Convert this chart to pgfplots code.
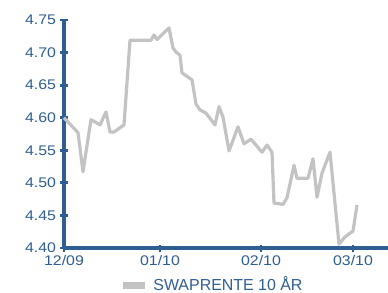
\documentclass[border=0pt]{standalone}
\usepackage{pgfplots}
\pgfplotsset{compat=1.18}
\usepackage{fontspec}
\setmainfont{Liberation Sans}[FakeStretch=1.14]
\newfontfamily\legfont{Liberation Sans}
\definecolor{axblue}{RGB}{47,94,148}
\definecolor{lgray}{RGB}{195,195,195}
\begin{document}
\begin{tikzpicture}
\path[use as bounding box] (-64bp,-45bp) rectangle (324bp,248bp);
\begin{axis}[
  at={(0,0)}, anchor=south west,
  scale only axis, width=324bp, height=228bp,
  xmin=64, xmax=388, ymin=4.40, ymax=4.75,
  axis x line=bottom, axis y line=left,
  axis line style={-, line width=3.2bp, draw=axblue},
  xtick={64,160,261,353},
  xticklabels={12/09,01/10,02/10,03/10},
  ytick={4.40,4.45,4.50,4.55,4.60,4.65,4.70,4.75},
  yticklabel style={xshift=-1bp, /pgf/number format/fixed, /pgf/number format/fixed zerofill, /pgf/number format/precision=2, /pgf/number format/assume math mode=true},
  tick align=center,
  major tick length=7bp,
  every tick/.style={line width=2.8bp, draw=axblue},
  tick label style={font=\fontsize{14}{16}\selectfont, text=axblue},
  clip=false,
  legend style={draw=none, fill=none, inner sep=0pt, outer sep=0pt, at={(0.1695,0)}, anchor=west, yshift=-36bp,
    font=\legfont\fontsize{16}{18}\selectfont, text=axblue,
    /tikz/every odd column/.append style={column sep=3bp}},
  legend image code/.code={\draw[line width=7.5bp, draw=lgray] (0bp,-1.5bp) -- (22bp,-1.5bp);},
]
\addplot[draw=lgray, line width=3.2bp, line join=round] coordinates {
(64,4.600) (78,4.577) (83,4.517) (91,4.597) (100,4.589) (106,4.609)
(110,4.578) (114,4.578) (124,4.589) (130,4.719) (151,4.719) (154,4.727)
(157,4.720) (169,4.738) (173,4.707) (176,4.701) (180,4.696) (182,4.669)
(192,4.658) (196,4.621) (200,4.612) (206,4.607) (215,4.589) (219,4.617)
(223,4.601) (229,4.549) (238,4.586) (244,4.560) (251,4.567) (262,4.547)
(267,4.558) (272,4.547) (274,4.469) (283,4.467) (287,4.477) (294,4.527)
(297,4.507) (308,4.507) (313,4.537) (317,4.478) (322,4.515) (330,4.547)
(339,4.406) (345,4.417) (353,4.426) (357,4.466)
};
\addlegendentry{SWAPRENTE 10 ÅR}
\end{axis}
\end{tikzpicture}
\end{document}
